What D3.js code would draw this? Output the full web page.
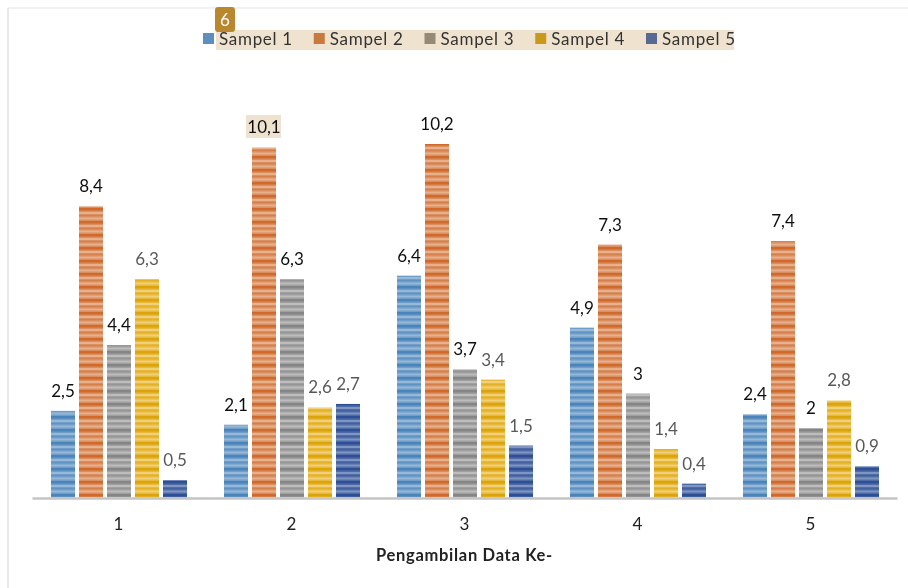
<!DOCTYPE html>
<html>
<head>
<meta charset="utf-8">
<script src="https://cdn.jsdelivr.net/npm/d3@7"></script>
<style>
  html, body { margin: 0; padding: 0; background: #fff; }
  svg { display: block; font-family: Lato, sans-serif; }
</style>
</head>
<body>
<svg id="chart" width="908" height="588"></svg>
<script>
var categories = ['1', '2', '3', '4', '5'];
var seriesNames = ['Sampel 1', 'Sampel 2', 'Sampel 3', 'Sampel 4', 'Sampel 5'];
var sampel1 = [2.5, 2.1, 6.4, 4.9, 2.4];
var sampel2 = [8.4, 10.1, 10.2, 7.3, 7.4];
var sampel3 = [4.4, 6.3, 3.7, 3, 2];
var sampel4 = [6.3, 2.6, 3.4, 1.4, 2.8];
var sampel5 = [0.5, 2.7, 1.5, 0.4, 0.9];
var seriesValues = [sampel1, sampel2, sampel3, sampel4, sampel5];

var axisTitle = 'Pengambilan Data Ke-';
var badgeText = '6';

var svg = d3.select('#chart');
var defs = svg.append('defs');

// base / dark / light tone per series
var tones = [
  ['#6f9dc9', '#4a84ba', '#97b9d8'],
  ['#d98f60', '#d0692a', '#e8b08c'],
  ['#a0a0a0', '#858585', '#bdbdbd'],
  ['#e8b93a', '#dba40a', '#f0d07a'],
  ['#4f6ca6', '#2f5097', '#8096c2']
];
var legendSwatch = ['#5b8fbf', '#c87a3e', '#948a74', '#c9991f', '#566a94'];

// stripes: one dark band then softer lines, repeats every 13px
tones.forEach(function (t, i) {
  var p = defs.append('pattern')
    .attr('id', 'stripe' + i)
    .attr('patternUnits', 'userSpaceOnUse')
    .attr('width', 8).attr('height', 13);
  p.append('rect').attr('width', 8).attr('height', 13).attr('fill', t[0]);
  p.append('rect').attr('y', 0).attr('width', 8).attr('height', 2.5).attr('fill', t[1]);
  p.append('rect').attr('y', 4).attr('width', 8).attr('height', 2).attr('fill', t[2]);
  p.append('rect').attr('y', 7).attr('width', 8).attr('height', 1).attr('fill', t[1]).attr('opacity', 0.4);
  p.append('rect').attr('y', 9.5).attr('width', 8).attr('height', 2).attr('fill', t[2]);
});

var soft = defs.append('filter').attr('id', 'soft');
soft.append('feGaussianBlur').attr('stdDeviation', 0.7);
var softText = defs.append('filter').attr('id', 'softText');
softText.append('feGaussianBlur').attr('stdDeviation', 0.35);

var x0 = d3.scaleBand().domain(categories).range([32, 897]);
var x1 = d3.scaleBand().domain(d3.range(5)).range([19, 155]).paddingInner(4 / 28);
var y = d3.scaleLinear().domain([0, 10.2]).range([497.5, 144]);

// frame lines, top and left
svg.append('line').attr('x1', 8).attr('x2', 908).attr('y1', 8).attr('y2', 8)
  .attr('stroke', '#ececec').attr('stroke-width', 1.5);
svg.append('line').attr('x1', 8).attr('x2', 8).attr('y1', 8).attr('y2', 588)
  .attr('stroke', '#e2e2e2').attr('stroke-width', 1.5);

var barLayer = svg.append('g').attr('filter', 'url(#soft)');
var root = svg.append('g').attr('filter', 'url(#softText)');

seriesValues.forEach(function (vals, s) {
  barLayer.selectAll('rect.s' + s).data(categories).join('rect')
    .attr('class', 's' + s)
    .attr('x', function (d) { return x0(d) + x1(s); })
    .attr('width', x1.bandwidth())
    .attr('y', function (d, i) { return y(vals[i]); })
    .attr('height', function (d, i) { return y(0) - y(vals[i]); })
    .attr('fill', 'url(#stripe' + s + ')');
});

// highlighted 10,1 label background
root.append('rect')
  .attr('x', x0('2') + x1(1) + x1.bandwidth() / 2 - 18).attr('y', 115)
  .attr('width', 35).attr('height', 23)
  .attr('fill', '#efe3cf');

seriesValues.forEach(function (vals, s) {
  root.selectAll('text.v' + s).data(categories).join('text')
    .attr('class', 'v' + s)
    .attr('x', function (d) { return x0(d) + x1(s) + x1.bandwidth() / 2; })
    .attr('y', function (d, i) { return y(vals[i]) - 14; })
    .attr('text-anchor', 'middle')
    .attr('font-size', 17)
    .attr('fill', s > 2 ? '#595959' : '#111')
    .text(function (d, i) { return String(vals[i]).replace('.', ','); });
});

// baseline + category labels
var axis = d3.axisBottom(x0).tickSize(0).tickPadding(20);
var axisG = root.append('g').attr('transform', 'translate(0,498)').call(axis);
axisG.select('.domain').attr('stroke', '#c4c4c4').attr('stroke-width', 2.5);
axisG.selectAll('text').attr('font-size', 17).attr('font-family', 'Lato, sans-serif').attr('fill', '#222');

root.append('text').attr('x', 464.5).attr('y', 561)
  .attr('text-anchor', 'middle').attr('font-size', 16.5).attr('font-weight', 700)
  .attr('letter-spacing', 0.7).attr('fill', '#222').text(axisTitle);

// legend
root.append('rect').attr('x', 216).attr('y', 30).attr('width', 518).attr('height', 20).attr('fill', '#efe3cf');
var legendX = d3.scaleLinear().domain([0, 4]).range([203, 646]);
var legend = root.selectAll('g.leg').data(seriesNames).join('g')
  .attr('class', 'leg')
  .attr('transform', function (d, i) { return 'translate(' + legendX(i) + ',0)'; });
legend.append('rect').attr('y', 33).attr('width', 11).attr('height', 11)
  .attr('fill', function (d, i) { return legendSwatch[i]; });
legend.append('text').attr('x', 16).attr('y', 45)
  .attr('font-size', 17).attr('letter-spacing', 0.7).attr('fill', '#333')
  .text(function (d) { return d; });

// numbered badge
root.append('rect').attr('x', 215).attr('y', 7).attr('width', 20).attr('height', 25).attr('rx', 3).attr('fill', '#b9882f');
root.append('text').attr('x', 225).attr('y', 26).attr('text-anchor', 'middle')
  .attr('font-size', 17).attr('fill', '#fff').text(badgeText);
</script>
</body>
</html>
